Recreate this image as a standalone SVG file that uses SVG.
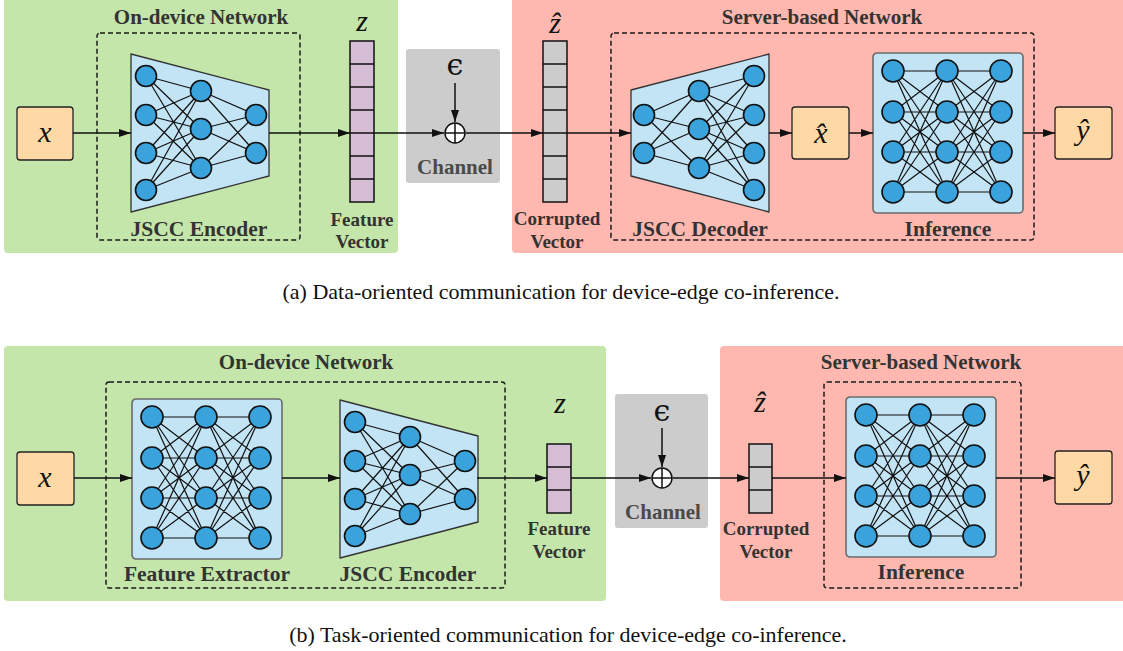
<svg xmlns="http://www.w3.org/2000/svg" xmlns:xlink="http://www.w3.org/1999/xlink" width="1123" height="651" viewBox="0 0 1123 651">
<style>
.green{fill:#C5E6AA}
.red{fill:#FFB8AF}
.dash{fill:none;stroke:#1a1a1a;stroke-width:1.5;stroke-dasharray:5,3}
.io{fill:#FFD9A5;stroke:#222;stroke-width:1.3}
.chan{fill:#CCCCCC}
.vecp{fill:#D5BDD6;stroke:#111;stroke-width:1.5}
.vecg{fill:#CCCCCC;stroke:#111;stroke-width:1.5}
.cell{stroke:#111;stroke-width:1.5}
.title{font-family:"Liberation Serif",serif;font-weight:bold;font-size:21px;fill:#333;text-anchor:middle}
.lbl{font-family:"Liberation Serif",serif;font-weight:bold;font-size:21.5px;fill:#333;text-anchor:middle}
.sm{font-family:"Liberation Serif",serif;font-weight:bold;font-size:19px;fill:#333;text-anchor:middle}
.chl{font-family:"Liberation Serif",serif;font-weight:bold;font-size:21px;fill:#4a4a4a;text-anchor:middle}
.math{font-family:"Liberation Serif",serif;font-style:italic;font-size:30px;fill:#111;text-anchor:middle}
.eps{font-family:"DejaVu Serif",serif;font-size:30px;fill:#111;text-anchor:middle}
.cap{font-family:"Liberation Serif",serif;font-size:22px;fill:#111;text-anchor:middle}
.conn{fill:none;stroke:#111;stroke-width:1.5;marker-end:url(#ah)}
.edge{fill:none;stroke:#111;stroke-width:1.2}
.node{fill:#3BA3DC;stroke:#111;stroke-width:1.6}
.netbg{fill:#C2E4F5;stroke:#333;stroke-width:1.3;stroke-linejoin:round}
.sqbg{fill:#C2E4F5;stroke:#6b6b6b;stroke-width:1.6}
.plus{fill:#fff;stroke:#111;stroke-width:1.5}
</style>
<defs>
<marker id="ah" markerWidth="12" markerHeight="8" refX="12" refY="4" orient="auto" markerUnits="userSpaceOnUse"><path d="M0,0 L12,4 L0,8 z" fill="#111"/></marker>
<g id="enc">
<polygon class="netbg" points="0,0 138,36 138,122 0,158"/>
<path class="edge" d="M15 22L70 37M15 22L70 75M15 22L70 114M15 61L70 37M15 61L70 75M15 61L70 114M15 99L70 37M15 99L70 75M15 99L70 114M15 136L70 37M15 136L70 75M15 136L70 114M70 37L125 61M70 37L125 99M70 75L125 61M70 75L125 99M70 114L125 61M70 114L125 99"/>
<circle class="node" cx="15" cy="22" r="10.5"/><circle class="node" cx="15" cy="61" r="10.5"/><circle class="node" cx="15" cy="99" r="10.5"/><circle class="node" cx="15" cy="136" r="10.5"/>
<circle class="node" cx="70" cy="37" r="10.5"/><circle class="node" cx="70" cy="75" r="10.5"/><circle class="node" cx="70" cy="114" r="10.5"/>
<circle class="node" cx="125" cy="61" r="10.5"/><circle class="node" cx="125" cy="99" r="10.5"/>
</g>
<g id="sq">
<rect class="sqbg" x="0" y="0" width="150" height="160" rx="4"/>
<path class="edge" d="M20 18L74 18M20 18L74 59M20 18L74 99M20 18L74 139M20 59L74 18M20 59L74 59M20 59L74 99M20 59L74 139M20 99L74 18M20 99L74 59M20 99L74 99M20 99L74 139M20 139L74 18M20 139L74 59M20 139L74 99M20 139L74 139M74 18L128 18M74 18L128 59M74 18L128 99M74 18L128 139M74 59L128 18M74 59L128 59M74 59L128 99M74 59L128 139M74 99L128 18M74 99L128 59M74 99L128 99M74 99L128 139M74 139L128 18M74 139L128 59M74 139L128 99M74 139L128 139"/>
<circle class="node" cx="20" cy="18" r="11"/><circle class="node" cx="20" cy="59" r="11"/><circle class="node" cx="20" cy="99" r="11"/><circle class="node" cx="20" cy="139" r="11"/>
<circle class="node" cx="74" cy="18" r="11"/><circle class="node" cx="74" cy="59" r="11"/><circle class="node" cx="74" cy="99" r="11"/><circle class="node" cx="74" cy="139" r="11"/>
<circle class="node" cx="128" cy="18" r="11"/><circle class="node" cx="128" cy="59" r="11"/><circle class="node" cx="128" cy="99" r="11"/><circle class="node" cx="128" cy="139" r="11"/>
</g>
</defs>

<!-- ===== (a) ===== -->
<g id="a-device-panel">
<rect class="green" x="4" y="-4" width="394" height="257" rx="4"/>
<text class="title" x="201" y="24">On-device Network</text>
<rect class="dash" x="97" y="33" width="203" height="207" rx="3"/>
</g>
<g id="a-server-panel">
<rect class="red" x="512" y="-4" width="615" height="257" rx="4"/>
<text class="title" x="822" y="24">Server-based Network</text>
<rect class="dash" x="611" y="33" width="423" height="207" rx="3"/>
</g>
<g id="a-input">
<rect class="io" x="17" y="107" width="56" height="53" rx="3"/>
<text class="math" x="45" y="142">x</text>
</g>
<g id="a-encoder">
<use href="#enc" xlink:href="#enc" transform="translate(131,54)"/>
<text class="lbl" x="199" y="236">JSCC Encoder</text>
</g>
<g id="a-feature-vector">
<rect class="vecp" x="350" y="41" width="24" height="161"/>
<path class="cell" d="M350 64H374M350 87H374M350 110H374M350 133H374M350 156H374M350 179H374"/>
<text class="math" x="362" y="31">z</text>
<text class="sm" x="362" y="226">Feature</text>
<text class="sm" x="362" y="248">Vector</text>
</g>
<g id="a-channel">
<rect class="chan" x="406" y="49" width="94" height="134" rx="3"/>
<text class="eps" x="455" y="75">ϵ</text>
<circle class="plus" cx="455" cy="133" r="10"/>
<path class="cell" d="M445 133H465M455 123V143"/>
<text class="chl" x="455" y="174">Channel</text>
</g>
<g id="a-corrupted-vector">
<rect class="vecg" x="543" y="41" width="24" height="161"/>
<path class="cell" d="M543 64H567M543 87H567M543 110H567M543 133H567M543 156H567M543 179H567"/>
<text class="math" x="555" y="33">ẑ</text>
<text class="sm" x="557" y="225">Corrupted</text>
<text class="sm" x="557" y="248">Vector</text>
</g>
<g id="a-decoder">
<use href="#enc" xlink:href="#enc" transform="translate(769,54) scale(-1,1)"/>
<text class="lbl" x="700" y="236">JSCC Decoder</text>
</g>
<g id="a-xhat">
<rect class="io" x="792" y="107" width="57" height="52" rx="3"/>
<text class="math" x="821" y="143">x̂</text>
</g>
<g id="a-inference">
<use href="#sq" xlink:href="#sq" transform="translate(873,53)"/>
<text class="lbl" x="948" y="236">Inference</text>
</g>
<g id="a-output">
<rect class="io" x="1055" y="107" width="57" height="52" rx="3"/>
<text class="math" x="1083" y="140">ŷ</text>
</g>
<g id="a-connectors">
<path class="conn" d="M73 133H131"/>
<path class="conn" d="M269 133H350"/>
<path class="conn" d="M374 133H444"/>
<path class="conn" d="M455 83V122"/>
<path class="conn" d="M466 133H543"/>
<path class="conn" d="M567 133H631"/>
<path class="conn" d="M769 133H792"/>
<path class="conn" d="M849 133H873"/>
<path class="conn" d="M1023 133H1055"/>
</g>
<text class="cap" x="561" y="299">(a) Data-oriented communication for device-edge co-inference.</text>

<!-- ===== (b) ===== -->
<g id="b-device-panel">
<rect class="green" x="4" y="346" width="602" height="255" rx="4"/>
<text class="title" x="306" y="369">On-device Network</text>
<rect class="dash" x="106" y="382" width="399" height="206" rx="3"/>
</g>
<g id="b-server-panel">
<rect class="red" x="720" y="346" width="406" height="255" rx="4"/>
<text class="title" x="921" y="369">Server-based Network</text>
<rect class="dash" x="824" y="382" width="197" height="206" rx="3"/>
</g>
<g id="b-input">
<rect class="io" x="17" y="452" width="57" height="53" rx="3"/>
<text class="math" x="45" y="487">x</text>
</g>
<g id="b-feature-extractor">
<use href="#sq" xlink:href="#sq" transform="translate(132,399)"/>
<text class="lbl" x="207" y="581">Feature Extractor</text>
</g>
<g id="b-encoder">
<use href="#enc" xlink:href="#enc" transform="translate(340,400)"/>
<text class="lbl" x="408" y="581">JSCC Encoder</text>
</g>
<g id="b-feature-vector">
<rect class="vecp" x="547" y="444" width="24" height="69"/>
<path class="cell" d="M547 467H571M547 490H571"/>
<text class="math" x="560" y="413">z</text>
<text class="sm" x="559" y="535">Feature</text>
<text class="sm" x="559" y="558">Vector</text>
</g>
<g id="b-channel">
<rect class="chan" x="615" y="394" width="93" height="134" rx="3"/>
<text class="eps" x="662" y="421">ϵ</text>
<circle class="plus" cx="662" cy="478" r="10"/>
<path class="cell" d="M652 478H672M662 468V488"/>
<text class="chl" x="663" y="519">Channel</text>
</g>
<g id="b-corrupted-vector">
<rect class="vecg" x="749" y="444" width="23" height="69"/>
<path class="cell" d="M749 467H772M749 490H772"/>
<text class="math" x="760" y="412">ẑ</text>
<text class="sm" x="766" y="535">Corrupted</text>
<text class="sm" x="766" y="558">Vector</text>
</g>
<g id="b-inference">
<use href="#sq" xlink:href="#sq" transform="translate(846,397)"/>
<text class="lbl" x="921" y="579">Inference</text>
</g>
<g id="b-output">
<rect class="io" x="1055" y="451" width="57" height="53" rx="3"/>
<text class="math" x="1083" y="485">ŷ</text>
</g>
<g id="b-connectors">
<path class="conn" d="M74 478H132"/>
<path class="conn" d="M282 478H340"/>
<path class="conn" d="M477 478H547"/>
<path class="conn" d="M571 478H651"/>
<path class="conn" d="M662 428V467"/>
<path class="conn" d="M673 478H749"/>
<path class="conn" d="M772 478H846"/>
<path class="conn" d="M996 478H1055"/>
</g>
<text class="cap" x="568" y="642">(b) Task-oriented communication for device-edge co-inference.</text>
</svg>
